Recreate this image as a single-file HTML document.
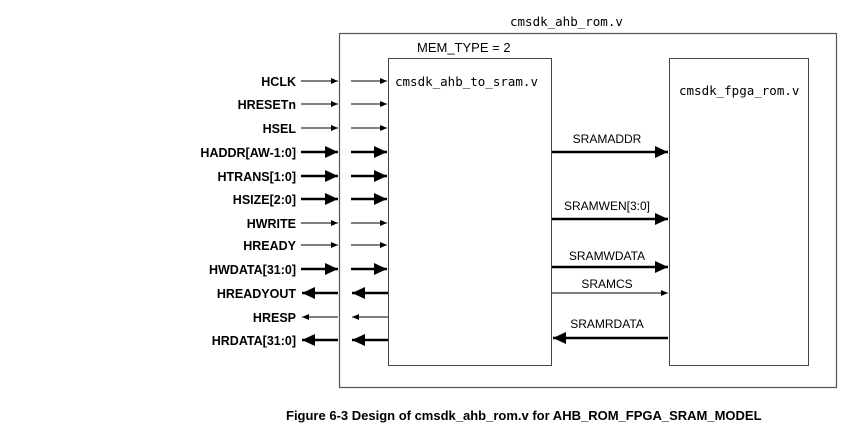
<!DOCTYPE html>
<html><head><style>body{margin:0;background:#fff}svg{display:block}</style></head><body>
<svg width="850" height="433" xmlns="http://www.w3.org/2000/svg" font-family="Liberation Sans, Arial, sans-serif">
<defs>
<marker id="a" markerWidth="8" markerHeight="8" refX="7" refY="4" orient="auto" markerUnits="userSpaceOnUse"><path d="M0,1 L7,4 L0,7z" fill="#000"/></marker>
<marker id="b" markerWidth="14" markerHeight="12" refX="13" refY="6" orient="auto" markerUnits="userSpaceOnUse"><path d="M0,0 L13,6 L0,12z" fill="#000"/></marker>
</defs>
<rect x="0" y="0" width="850" height="433" fill="#fff"/>
<rect x="339.5" y="33.5" width="497" height="354" fill="none" stroke="#555" stroke-width="1.2"/>
<rect x="388.5" y="58.5" width="163" height="307" fill="none" stroke="#444" stroke-width="1"/>
<rect x="669.5" y="58.5" width="139" height="307" fill="none" stroke="#444" stroke-width="1"/>
<g font-family="DejaVu Sans Mono, Liberation Mono, monospace" font-size="12.5" fill="#000">
<text x="510" y="26">cmsdk_ahb_rom.v</text>
<text x="395" y="86">cmsdk_ahb_to_sram.v</text>
<text x="679" y="95">cmsdk_fpga_rom.v</text>
</g>
<text x="417" y="52" font-size="13">MEM_TYPE = 2</text>
<g font-size="12.5" font-weight="bold" text-anchor="end">
<text x="296" y="86">HCLK</text><text x="296" y="109">HRESETn</text><text x="296" y="133">HSEL</text>
<text x="296" y="157">HADDR[AW-1:0]</text><text x="296" y="181">HTRANS[1:0]</text><text x="296" y="204">HSIZE[2:0]</text>
<text x="296" y="228">HWRITE</text><text x="296" y="250">HREADY</text><text x="296" y="274">HWDATA[31:0]</text>
<text x="296" y="298">HREADYOUT</text><text x="296" y="322">HRESP</text><text x="296" y="345">HRDATA[31:0]</text>
</g>
<g stroke="#000">
<g stroke-width="1" marker-end="url(#a)">
<line x1="301" y1="81" x2="338" y2="81"/><line x1="351" y1="81" x2="387" y2="81"/>
<line x1="301" y1="104" x2="338" y2="104"/><line x1="351" y1="104" x2="387" y2="104"/>
<line x1="301" y1="128" x2="338" y2="128"/><line x1="351" y1="128" x2="387" y2="128"/>
<line x1="301" y1="223" x2="338" y2="223"/><line x1="351" y1="223" x2="387" y2="223"/>
<line x1="301" y1="245" x2="338" y2="245"/><line x1="351" y1="245" x2="387" y2="245"/>
<line x1="338" y1="317" x2="302" y2="317"/><line x1="388" y1="317" x2="352" y2="317"/>
<line x1="552" y1="293" x2="668" y2="293"/>
</g>
<g stroke-width="2.5" marker-end="url(#b)">
<line x1="301" y1="152" x2="338" y2="152"/><line x1="351" y1="152" x2="387" y2="152"/>
<line x1="301" y1="176" x2="338" y2="176"/><line x1="351" y1="176" x2="387" y2="176"/>
<line x1="301" y1="199" x2="338" y2="199"/><line x1="351" y1="199" x2="387" y2="199"/>
<line x1="301" y1="269" x2="338" y2="269"/><line x1="351" y1="269" x2="387" y2="269"/>
<line x1="338" y1="293" x2="302" y2="293"/><line x1="388" y1="293" x2="352" y2="293"/>
<line x1="338" y1="340" x2="302" y2="340"/><line x1="388" y1="340" x2="352" y2="340"/>
<line x1="552" y1="152" x2="668" y2="152"/>
<line x1="552" y1="219" x2="668" y2="219"/>
<line x1="552" y1="267" x2="668" y2="267"/>
<line x1="668" y1="338" x2="553" y2="338"/>
</g>
</g>
<g font-size="12" text-anchor="middle">
<text x="607" y="143">SRAMADDR</text><text x="607" y="210">SRAMWEN[3:0]</text>
<text x="607" y="260">SRAMWDATA</text><text x="607" y="288">SRAMCS</text><text x="607" y="328">SRAMRDATA</text>
</g>
<text x="286" y="420" font-size="13" font-weight="bold">Figure 6-3 Design of cmsdk_ahb_rom.v for AHB_ROM_FPGA_SRAM_MODEL</text>
</svg>
</body></html>
